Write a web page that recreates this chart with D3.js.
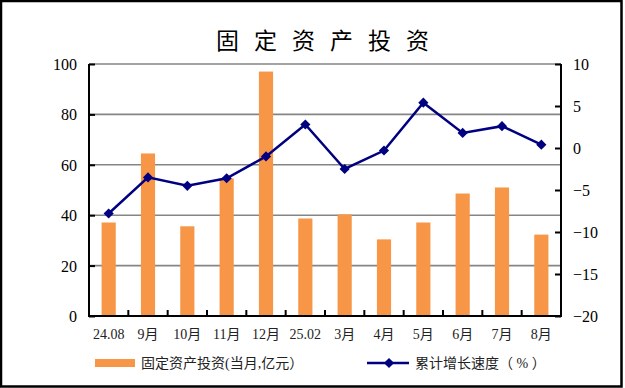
<!DOCTYPE html>
<html><head><meta charset="utf-8">
<script src="https://cdn.jsdelivr.net/npm/d3@7/dist/d3.min.js"></script>
<style>
html,body{margin:0;padding:0;background:#fff;}
svg{display:block;}
.serif{font-family:"Liberation Serif","DejaVu Serif","Noto Sans CJK SC",serif;}
.cjk{font-family:"Noto Sans CJK SC","Liberation Serif",sans-serif;}
</style></head>
<body>
<svg id="chart" width="625" height="388"></svg>
<script>
const categories = ["24.08","9月","10月","11月","12月","25.02","3月","4月","5月","6月","7月","8月"];
const investment = [37.1, 64.5, 35.6, 54.6, 97.0, 38.7, 40.3, 30.4, 37.1, 48.6, 51.0, 32.3];
const growth = [-7.8, -3.5, -4.5, -3.6, -1.0, 2.8, -2.5, -0.3, 5.4, 1.8, 2.6, 0.4];
const leftTicks = [0, 20, 40, 60, 80, 100];
const rightTicks = [-20, -15, -10, -5, 0, 5, 10];
const titleText = "固定资产投资";
const legendBar = "固定资产投资(当月,亿元）";
const legendLine = "累计增长速度（ % ）";

const svg = d3.select("#chart");

// frame
svg.append("rect").attr("x",1).attr("y",1).attr("width",620.5).attr("height",385.5)
  .attr("fill","#fff").attr("stroke","#000").attr("stroke-width",2.5);

const L = 89, R = 561, T = 64, B = 316;
const x = d3.scaleBand().domain(categories).range([L, R]).paddingInner(0).paddingOuter(0);
const yL = d3.scaleLinear().domain([0, 100]).range([B, T]);
const yR = d3.scaleLinear().domain([-20, 10]).range([B, T]);

// gridlines
svg.append("g").selectAll("line").data(leftTicks.filter(d=>d>0)).join("line")
  .attr("x1", L).attr("x2", R).attr("y1", d=>yL(d)).attr("y2", d=>yL(d))
  .attr("stroke","#858585").attr("stroke-width",1.6);

// bars
const bw = x.bandwidth()*0.36;
svg.append("g").selectAll("rect").data(investment).join("rect")
  .attr("x",(d,i)=>x(categories[i]) + x.bandwidth()/2 - bw/2)
  .attr("width", bw)
  .attr("y", d=>yL(d))
  .attr("height", d=>yL(0)-yL(d))
  .attr("fill","#F79646");

// left axis
const gL = svg.append("g").attr("transform",`translate(${L},0)`)
  .call(d3.axisRight(yL).tickValues(leftTicks).tickSize(6).tickFormat(d3.format("d")));
gL.attr("font-family",null).attr("font-size",null);
gL.select(".domain").remove();
gL.selectAll(".tick line").attr("stroke","#000").attr("stroke-width",2);
gL.selectAll(".tick text").attr("x",-12).attr("text-anchor","end").attr("class","serif")
  .style("font-size","16px").attr("fill","#000").attr("dy","0.34em");

// right axis
const gR = svg.append("g").attr("transform",`translate(${R},0)`)
  .call(d3.axisLeft(yR).tickValues(rightTicks).tickSize(6).tickFormat(d3.format("d")));
gR.attr("font-family",null).attr("font-size",null);
gR.select(".domain").remove();
gR.selectAll(".tick line").attr("stroke","#000").attr("stroke-width",2);
gR.selectAll(".tick text").attr("x",12).attr("text-anchor","start").attr("class","serif")
  .style("font-size","16px").attr("fill","#000").attr("dy","0.34em");

// bottom axis ticks at category boundaries
const bounds = categories.map(c=>x(c)).concat([R]);
svg.append("g").selectAll("line").data(bounds).join("line")
  .attr("x1",d=>d).attr("x2",d=>d).attr("y1",B).attr("y2",B-6)
  .attr("stroke","#000").attr("stroke-width",2);
svg.append("g").selectAll("text").data(categories).join("text")
  .attr("class","serif")
  .attr("x", d=>x(d)+x.bandwidth()/2).attr("y", 339)
  .attr("text-anchor","middle").style("font-size","14px").attr("fill","#222")
  .text(d=>d);

// axis lines
svg.append("line").attr("x1",L).attr("x2",L).attr("y1",T).attr("y2",B+1).attr("stroke","#000").attr("stroke-width",2);
svg.append("line").attr("x1",R).attr("x2",R).attr("y1",T).attr("y2",B+1).attr("stroke","#000").attr("stroke-width",2);
svg.append("line").attr("x1",L-1).attr("x2",R+1).attr("y1",B).attr("y2",B).attr("stroke","#000").attr("stroke-width",2);

// line series
const line = d3.line().x((d,i)=>x(categories[i])+x.bandwidth()/2).y(d=>yR(d));
svg.append("path").datum(growth).attr("d", line).attr("fill","none")
  .attr("stroke","#000080").attr("stroke-width",2.5);
const diamond = d3.symbol().type(d3.symbolSquare).size(52);
svg.append("g").selectAll("path").data(growth).join("path")
  .attr("d", diamond())
  .attr("transform",(d,i)=>`translate(${x(categories[i])+x.bandwidth()/2},${yR(d)}) rotate(45)`)
  .attr("fill","#000080");

// title
svg.append("text").attr("class","cjk").attr("x", 322.5 + 7.5).attr("y", 39).attr("dominant-baseline","central")
  .attr("text-anchor","middle").style("font-size","23px")
  .attr("letter-spacing","15px").attr("fill","#000").text(titleText);

// legend
svg.append("rect").attr("x",95).attr("y",359).attr("width",40).attr("height",8).attr("fill","#F79646");
svg.append("text").attr("class","serif").attr("x",141).attr("y",363).attr("dominant-baseline","central")
  .style("font-size","14px").attr("fill","#222").text(legendBar);
svg.append("line").attr("x1",367).attr("x2",409).attr("y1",363).attr("y2",363)
  .attr("stroke","#000080").attr("stroke-width",2.5);
svg.append("path").attr("d", diamond()).attr("transform","translate(389,363) rotate(45)").attr("fill","#000080");
svg.append("text").attr("class","serif").attr("x",415).attr("y",363).attr("dominant-baseline","central")
  .style("font-size","14px").attr("fill","#222").text(legendLine);
</script>
</body></html>
